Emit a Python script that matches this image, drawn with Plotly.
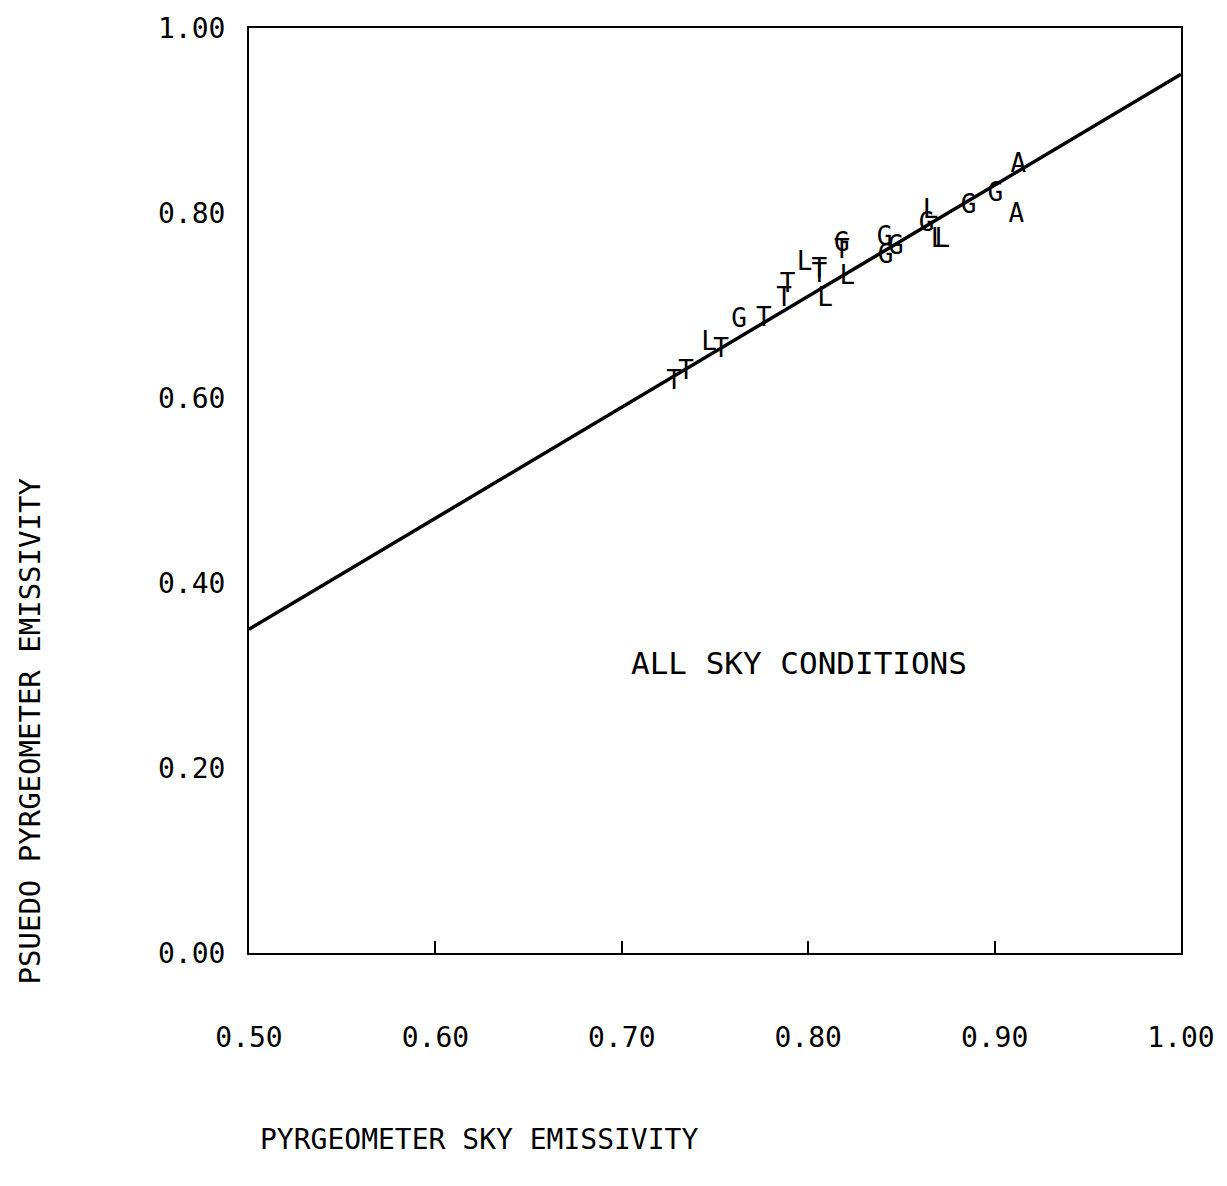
import plotly.graph_objects as go

# ---- data ----
t_x = [0.728, 0.7345, 0.7532, 0.7762, 0.789, 0.787, 0.806, 0.806, 0.818]
t_y = [0.617, 0.628, 0.651, 0.685, 0.722, 0.707, 0.738, 0.732, 0.758]

l_x = [0.7468, 0.798, 0.809, 0.821, 0.8656, 0.870, 0.872]
l_y = [0.659, 0.745, 0.706, 0.730, 0.802, 0.770, 0.770]

g_x = [0.7629, 0.818, 0.841, 0.847, 0.8415, 0.8635, 0.886, 0.9004]
g_y = [0.684, 0.766, 0.772, 0.763, 0.753, 0.788, 0.807, 0.820]

a_x = [0.9127, 0.9117]
a_y = [0.851, 0.797]

fit_x = [0.50, 1.00]
fit_y = [0.35, 0.95]

x_ticks = [0.50, 0.60, 0.70, 0.80, 0.90, 1.00]
x_ticktext = ["0.50", "0.60", "0.70", "0.80", "0.90", "1.00"]
y_ticks = [0.00, 0.20, 0.40, 0.60, 0.80, 1.00]
y_ticktext = ["0.00", "0.20", "0.40", "0.60", "0.80", "1.00"]

FONT = "DejaVu Sans Mono"

fig = go.Figure()

fig.add_trace(go.Scatter(x=fit_x, y=fit_y, mode="lines",
                         line=dict(color="black", width=3.5), showlegend=False,
                         hoverinfo="skip"))

for xs, ys, ch in [(t_x, t_y, "T"), (l_x, l_y, "L"), (g_x, g_y, "G"), (a_x, a_y, "A")]:
    fig.add_trace(go.Scatter(x=xs, y=ys, mode="text", text=[ch] * len(xs),
                             textposition="middle center",
                             textfont=dict(family=FONT, size=26, color="black"),
                             showlegend=False))

fig.update_xaxes(range=[0.5, 1.0], tickvals=x_ticks, ticktext=x_ticktext,
                 ticks="inside", ticklen=12, tickwidth=1.5, tickcolor="black",
                 showline=True, linewidth=2, linecolor="black", mirror=True,
                 showgrid=False, zeroline=False, ticklabelstandoff=58,
                 tickfont=dict(family=FONT, size=28, color="black"))
fig.update_yaxes(range=[0.0, 1.0], tickvals=y_ticks, ticktext=y_ticktext,
                 ticks="", showline=True, linewidth=2, linecolor="black", mirror=True,
                 showgrid=False, zeroline=False, ticklabelstandoff=16,
                 tickfont=dict(family=FONT, size=28, color="black"))

fig.add_annotation(x=0.795, y=0.3136, xref="x", yref="y", text="ALL SKY CONDITIONS",
                   showarrow=False, font=dict(family=FONT, size=31, color="black"))
fig.add_annotation(x=0.0096, y=-0.2015, xref="paper", yref="paper",
                   text="PYRGEOMETER SKY EMISSIVITY", showarrow=False,
                   xanchor="left", yanchor="middle",
                   font=dict(family=FONT, size=28, color="black"))
fig.add_annotation(x=-0.2345, y=0.24, xref="paper", yref="paper",
                   text="PSUEDO PYRGEOMETER EMISSIVITY", showarrow=False,
                   textangle=-90, xanchor="center", yanchor="middle",
                   font=dict(family=FONT, size=29, color="black"))

fig.update_layout(width=1227, height=1186,
                  margin=dict(l=249, r=44, t=25, b=233),
                  plot_bgcolor="white", paper_bgcolor="white")

fig.write_html("out.html")
